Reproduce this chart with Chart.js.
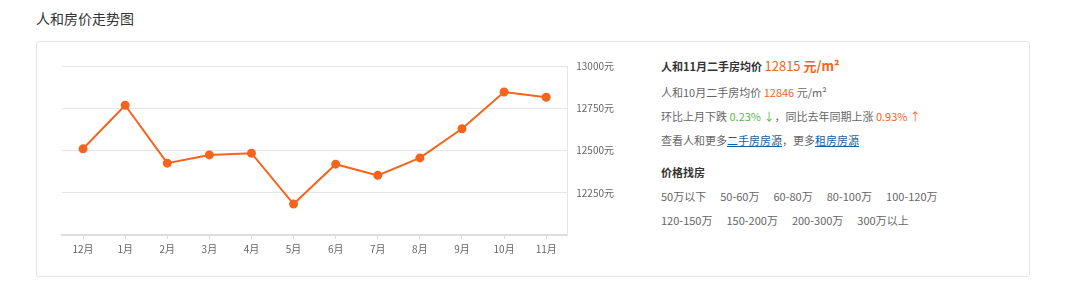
<!DOCTYPE html>
<html>
<head>
<meta charset="utf-8">
<script src="https://cdn.jsdelivr.net/npm/chart.js@4/dist/chart.umd.min.js"></script>
<style>
  body { margin: 0; background: #fff; font-family: "Noto Sans CJK SC", "Noto Sans", sans-serif; color: #666; }
  .title { position: absolute; left: 36px; top: 8px; font-size: 14px; color: #333; }
  .box { position: absolute; left: 36px; top: 41px; width: 992px; height: 234px; border: 1px solid #e5e5e5; border-radius: 3px; }
  .chart-wrap { position: absolute; left: 40px; top: 50px; width: 600px; height: 220px; }
  .info { position: absolute; left: 661px; top: 56px; font-size: 11px; line-height: 24px; }
  .info .main { font-weight: bold; color: #333; font-size: 11px; margin-top: -2px; margin-bottom: 2px; }
  .info .main .num { font-size: 13px; color: #f5641e; }
  .info .main .num b { font-weight: normal; }
  .orange { color: #f5641e; }
  .green { color: #5ab44c; }
  .info a { color: #1a5fa0; text-decoration: underline; }
  .info .sub { font-weight: bold; color: #333; margin-top: 8px; }
  .info .prices span { margin-right: 14px; }
</style>
</head>
<body>
<div class="title">人和房价走势图</div>
<div class="box"></div>
<div class="chart-wrap"><canvas id="trend"></canvas></div>
<div class="info">
  <div class="main">人和11月二手房均价 <span class="num"><b>12815</b> 元/m²</span></div>
  <div>人和10月二手房均价 <span class="orange">12846</span> 元/m²</div>
  <div>环比上月下跌 <span class="green">0.23% ↓</span>，同比去年同期上涨 <span class="orange">0.93% ↑</span></div>
  <div>查看人和更多<a>二手房房源</a>，更多<a>租房房源</a></div>
  <div class="sub">价格找房</div>
  <div class="prices"><span>50万以下</span><span>50-60万</span><span>60-80万</span><span>80-100万</span><span>100-120万</span></div>
  <div class="prices"><span>120-150万</span><span>150-200万</span><span>200-300万</span><span>300万以上</span></div>
</div>
<script>
const months = ['12月', '1月', '2月', '3月', '4月', '5月', '6月', '7月', '8月', '9月', '10月', '11月']
const avgPrice = [12510, 12768, 12425, 12474, 12484, 12183, 12419, 12353, 12456, 12629, 12846, 12815]
const yTicks = [12000, 12250, 12500, 12750, 13000]

const lineColor = '#f5641e'

new Chart(document.getElementById('trend'), {
  type: 'line',
  data: {
    labels: months,
    datasets: [
      {
        data: avgPrice,
        borderColor: lineColor,
        backgroundColor: lineColor,
        borderWidth: 2,
        pointRadius: 3.5,
        pointHoverRadius: 3.5,
        tension: 0,
        fill: false,
      },
    ],
  },
  options: {
    responsive: true,
    maintainAspectRatio: false,
    animation: false,
    layout: { padding: { left: 22, top: 16, right: 17, bottom: 11 } },
    plugins: { legend: { display: false }, tooltip: { enabled: false } },
    scales: {
      x: {
        offset: true,
        grid: { drawOnChartArea: false, offset: false, tickLength: 4, color: '#ddd' },
        border: { color: '#ddd', width: 2 },
        ticks: { color: '#666', font: { size: 10, family: 'Noto Sans CJK SC' }, padding: 4 },
      },
      y: {
        position: 'right',
        min: yTicks[0],
        max: yTicks[yTicks.length - 1],
        afterBuildTicks: (axis) => { axis.ticks = yTicks.map((v) => ({ value: v })) },
        grid: { color: '#e6e6e6', drawTicks: false },
        border: { color: '#e6e6e6' },
        ticks: {
          color: '#666',
          padding: 9,
          font: { size: 10, family: 'Noto Sans CJK SC' },
          callback: (v) => (v === yTicks[0] ? '' : v + '元'),
        },
      },
    },
  },
})
</script>
</body>
</html>
